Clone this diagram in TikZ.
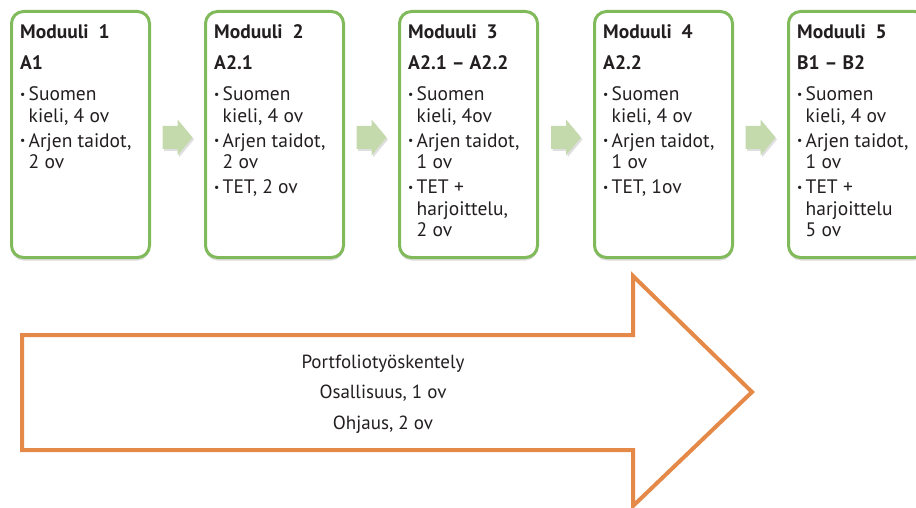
\documentclass[tikz,border=0pt]{standalone}
\usepackage{fontspec}
\setmainfont{PT Sans}
\usetikzlibrary{shadows,calc}

\definecolor{boxgreen}{RGB}{128,186,90}
\definecolor{arrowgreen}{RGB}{196,218,172}
\definecolor{portorange}{RGB}{228,137,72}
\definecolor{ink}{RGB}{35,31,32}

% bullet and continuation indent for module contents
\newcommand\modbullet{\makebox[8.5pt][l]{\raisebox{0.22ex}{\scalebox{0.6}{\textbullet}}}}
\newcommand\modindent{\hspace*{8.5pt}}

\tikzset{
  modbox/.style={draw=boxgreen, line width=3pt, rounded corners=12pt, fill=white,
    minimum width=138pt, minimum height=246pt, anchor=north west, inner sep=0pt,
    drop shadow={shadow xshift=0pt, shadow yshift=-3pt, opacity=0.28}},
  modtext/.style={anchor=north west, inner sep=0pt, align=left, text=ink,
    font=\fontsize{19.5}{21.5}\selectfont},
  stepArrow/.pic={
    \fill[arrowgreen, drop shadow={shadow xshift=1.5pt, shadow yshift=-2pt, opacity=0.25}]
      (-15,-11.5) -- (0,-11.5) -- (0,-18) -- (15,0) -- (0,18) -- (0,11.5) -- (-15,11.5) -- cycle;
  },
  portarrow/.style={draw=portorange, line width=4pt, fill=white, line join=miter},
  porttext/.style={align=center, text=ink, font=\fontsize{19}{30.5}\selectfont, inner sep=0pt},
}

\begin{document}
\begin{tikzpicture}[x=1pt, y=-1pt]
\useasboundingbox (0,0) rectangle (916,508);

% module boxes
\node[modbox] (m1) at (10,10) {};
\node[modbox] (m2) at (204,10) {};
\node[modbox] (m3) at (398,10) {};
\node[modbox] (m4) at (593,10) {};
\node[modbox] (m5) at (787,10) {};

% module contents
\node[modtext] (t1) at ($(m1.north west)+(10,14)$) {%
  \textbf{Moduuli\ \ 1}\\[9.5pt]
  \textbf{A1}\\[10pt]
  \modbullet Suomen\\
  \modindent kieli, 4 ov\\[3.5pt]
  \modbullet Arjen taidot,\\
  \modindent 2 ov};
\node[modtext] (t2) at ($(m2.north west)+(10,14)$) {%
  \textbf{Moduuli\ \ 2}\\[9.5pt]
  \textbf{A2.1}\\[10pt]
  \modbullet Suomen\\
  \modindent kieli, 4 ov\\[3.5pt]
  \modbullet Arjen taidot,\\
  \modindent 2 ov\\[3.5pt]
  \modbullet TET, 2 ov};
\node[modtext] (t3) at ($(m3.north west)+(10,14)$) {%
  \textbf{Moduuli\ \ 3}\\[9.5pt]
  \textbf{A2.1 -- A2.2}\\[10pt]
  \modbullet Suomen\\
  \modindent kieli, 4ov\\[3.5pt]
  \modbullet Arjen taidot,\\
  \modindent 1 ov\\[3.5pt]
  \modbullet TET +\\
  \modindent harjoittelu,\\
  \modindent 2 ov};
\node[modtext] (t4) at ($(m4.north west)+(10,14)$) {%
  \textbf{Moduuli\ \ 4}\\[9.5pt]
  \textbf{A2.2}\\[10pt]
  \modbullet Suomen\\
  \modindent kieli, 4 ov\\[3.5pt]
  \modbullet Arjen taidot,\\
  \modindent 1 ov\\[3.5pt]
  \modbullet TET, 1ov};
\node[modtext] (t5) at ($(m5.north west)+(10,14)$) {%
  \textbf{Moduuli\ \ 5}\\[9.5pt]
  \textbf{B1 -- B2}\\[10pt]
  \modbullet Suomen\\
  \modindent kieli, 4 ov\\[3.5pt]
  \modbullet Arjen taidot,\\
  \modindent 1 ov\\[3.5pt]
  \modbullet TET +\\
  \modindent harjoittelu\\
  \modindent 5 ov};

% step arrows between modules
\pic at ($(m1.east)!0.5!(m2.west)+(0,3)$) {stepArrow};
\pic at ($(m2.east)!0.5!(m3.west)+(0,3)$) {stepArrow};
\pic at ($(m3.east)!0.5!(m4.west)+(0,3)$) {stepArrow};
\pic at ($(m4.east)!0.5!(m5.west)+(0,3)$) {stepArrow};

% portfolio block arrow
\coordinate (pa) at (22,335);
\coordinate (pb) at (633,335);
\coordinate (pc) at (633,276);
\coordinate (pd) at (752,392);
\coordinate (pe) at (633,506);
\coordinate (pf) at (633,450);
\coordinate (pg) at (22,450);
\draw[portarrow] (pa) -- (pb) -- (pc) -- (pd) -- (pe) -- (pf) -- (pg) -- cycle;

\node[porttext] (port) at (383,394) {Portfoliotyöskentely\\Osallisuus, 1 ov\\Ohjaus, 2 ov};
\end{tikzpicture}
\end{document}
